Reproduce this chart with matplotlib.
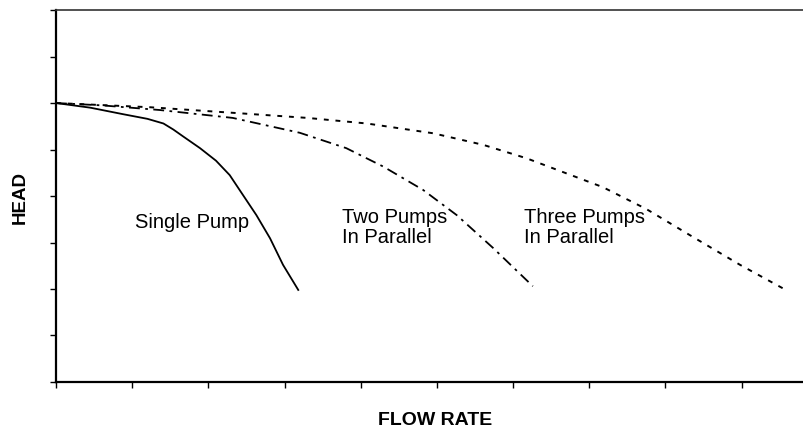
'''
pump curves: single pump and pumps in parallel
(head vs flow rate, no units on the axes)
'''
import matplotlib.pyplot as plt
import numpy as np

plt.rcParams['font.family'] = ['Liberation Sans', 'DejaVu Sans']

#curve points (flow, head)
single_flow = [0, 0.45, 0.88, 1.20, 1.41, 1.54, 1.67, 1.89, 2.10, 2.28, 2.41, 2.63, 2.81, 2.98, 3.18]
single_head = [6.0, 5.90, 5.76, 5.66, 5.56, 5.43, 5.28, 5.03, 4.76, 4.45, 4.13, 3.59, 3.09, 2.52, 1.98]

two_flow = [0, 0.60, 1.36, 2.32, 3.20, 3.81, 4.30, 4.82, 5.26, 5.74, 6.26]
two_head = [6.0, 5.95, 5.85, 5.68, 5.36, 5.03, 4.63, 4.13, 3.59, 2.88, 2.06]

three_flow = [0, 1.23, 2.41, 3.30, 4.08, 4.95, 5.61, 6.18, 7.18, 7.75, 8.32, 8.98, 9.57]
three_head = [6.0, 5.91, 5.78, 5.68, 5.56, 5.35, 5.10, 4.81, 4.19, 3.72, 3.16, 2.52, 1.99]

x_ticks = np.arange(0, 10)
y_ticks = np.arange(0, 9)

fig = plt.figure(figsize=(8.04, 4.33), dpi=100)
ax = fig.add_axes([0.0697, 0.1178, 0.9303, 0.859])

ax.plot(single_flow, single_head, color='black', lw=1.3)
ax.plot(two_flow, two_head, color='black', lw=1.3, dashes=(6, 3, 1.5, 3))
ax.plot(three_flow, three_head, color='black', lw=1.4, dashes=(2.5, 3.5))

#curve labels
ax.text(1.04, 3.44, 'Single Pump', fontsize=14.5, va='center', ha='left')
ax.text(3.75, 3.32, 'Two Pumps\nIn Parallel', fontsize=14.5, va='center', ha='left', linespacing=1.1)
ax.text(6.15, 3.32, 'Three Pumps\nIn Parallel', fontsize=14.5, va='center', ha='left', linespacing=1.1)

ax.set_xlim(0, 9.82)
ax.set_ylim(0, 8)
ax.set_xticks(x_ticks)
ax.set_yticks(y_ticks)
ax.set_xticklabels([])
ax.set_yticklabels([])
ax.tick_params(direction='out', length=4.5, width=1.0, color='black')

ax.spines['right'].set_visible(False)
ax.spines['left'].set_linewidth(1.6)
ax.spines['bottom'].set_linewidth(1.6)
ax.spines['top'].set_linewidth(1.2)
ax.spines['top'].set_color('#333333')

fig.text(0.025, 0.545, 'HEAD', rotation=90, fontsize=13.5, fontweight='bold', ha='center', va='center')
fig.text(0.541, 0.028, 'FLOW RATE', fontsize=14, fontweight='bold', ha='center', va='center')

plt.savefig('out.png', dpi=100)
